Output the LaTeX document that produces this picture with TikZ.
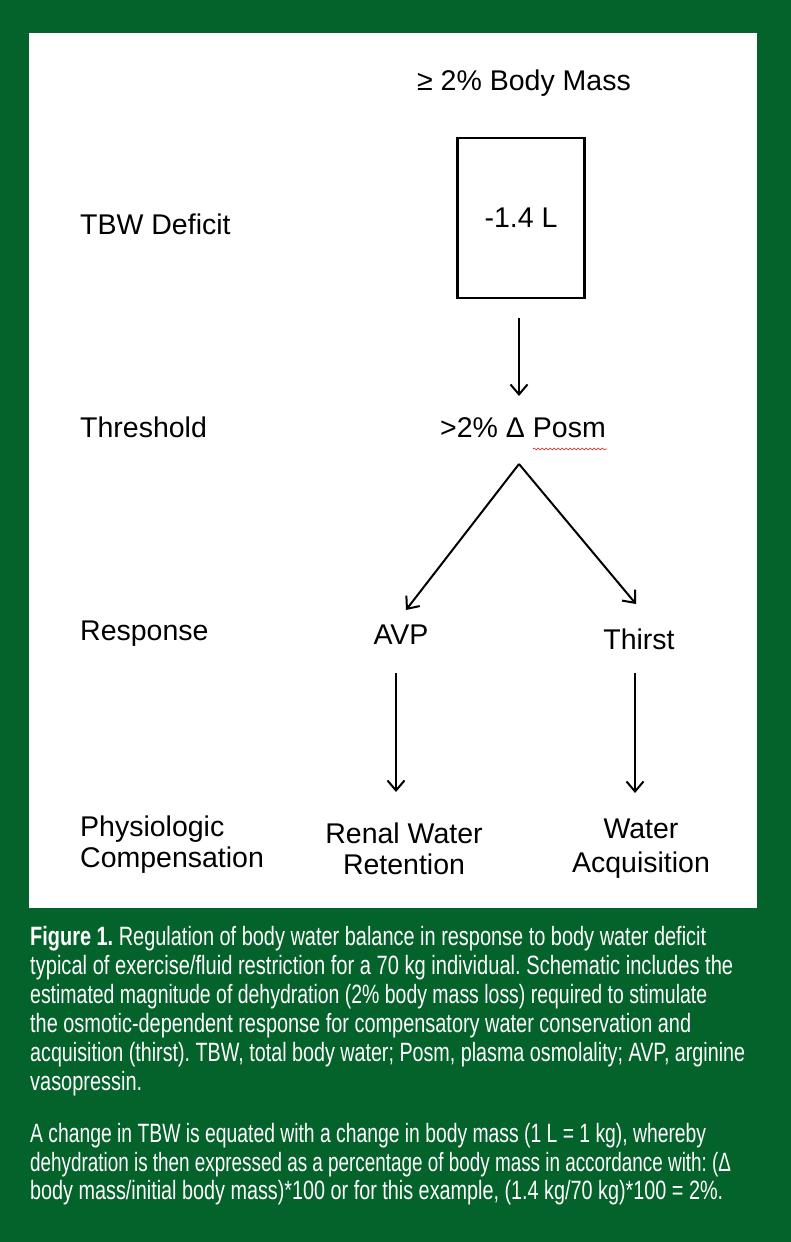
\documentclass[tikz,border=0pt]{standalone}
\usepackage{fontspec}
\usepackage{graphicx}
\setmainfont{Liberation Sans}
\newfontfamily\capfontA[FakeStretch=0.755]{Liberation Sans}
\usetikzlibrary{arrows.meta,decorations.pathmorphing}
\definecolor{bggreen}{HTML}{04622B}
\definecolor{squig}{HTML}{E03030}
\newcommand{\capfit}[2]{\resizebox{#1pt}{\height}{#2}}
\tikzset{
  lbl/.style={inner sep=0pt, font=\fontsize{28.5}{31}\selectfont, text=black},
  arr/.style={line width=2pt, -{Straight Barb[length=10pt,width=17pt,line width=2pt]}},
  capline/.style={anchor=base west, inner sep=0pt, text=white, font=\capfontA\fontsize{26.5}{29}\selectfont\frenchspacing},
}
\begin{document}
\begin{tikzpicture}[x=1pt,y=-1pt]
\useasboundingbox (0,0) rectangle (791,1242);
\fill[bggreen] (0,0) rectangle (791,1242);
\fill[white] (29,33) rectangle (757,908);

% top label and box
\node[lbl, anchor=base] (bodymass) at (524,90) {≥ 2\% Body Mass};
\node[lbl, draw, line width=2.6pt, minimum width=127pt, minimum height=160pt] (box) at (521,218) {-1.4 L};

% left labels
\node[lbl, anchor=base west] (tbw) at (80,234) {TBW Deficit};
\node[lbl, anchor=base west] (threshold) at (80,437) {Threshold};
\node[lbl, anchor=base west] (response) at (80,640) {Response};
\node[lbl, anchor=base west, align=left] (phys) at (80,867) {Physiologic\\Compensation};

% center labels
\node[lbl, anchor=base] (thr) at (523,437) {>2\% Δ Posm};
\node[lbl, anchor=base] (avp) at (401,644) {AVP};
\node[lbl, anchor=base] (thirst) at (639,649) {Thirst};
\node[lbl, anchor=base, align=center] (renal) at (404,874) {Renal Water\\Retention};
\node[lbl, anchor=base, align=center, font=\fontsize{28.5}{34}\selectfont] (water) at (641,872) {Water\\Acquisition};

% spell-check squiggle under Posm
\draw[squig, line width=0.7pt, decorate, decoration={snake, amplitude=0.9pt, segment length=4pt}] (533,449) -- (607,449);

% connector end points
\coordinate (a1s) at (519,318);
\coordinate (a1e) at (519,396);
\coordinate (apex) at (519,464);
\coordinate (avpin) at (406,610);
\coordinate (thin) at (636,604);
\coordinate (avpout) at (396,673);
\coordinate (renin) at (396,792);
\coordinate (thout) at (635,673);
\coordinate (watin) at (635,793);

\draw[arr] (a1s) -- (a1e);
\draw[arr] (apex) -- (avpin);
\draw[arr] (apex) -- (thin);
\draw[arr] (avpout) -- (renin);
\draw[arr] (thout) -- (watin);

% caption
\node[capline] (c1) at (30,945) {\capfit{676}{\textbf{Figure 1.} Regulation of body water balance in response to body water deficit}};
\node[capline] (c2) at (30,974) {\capfit{703}{typical of exercise/fluid restriction for a 70 kg individual. Schematic includes the}};
\node[capline] (c3) at (30,1003) {\capfit{677}{estimated magnitude of dehydration (2\% body mass loss) required to stimulate}};
\node[capline] (c4) at (30,1032) {\capfit{661}{the osmotic-dependent response for compensatory water conservation and}};
\node[capline] (c5) at (30,1061) {\capfit{715}{acquisition (thirst). TBW, total body water; Posm, plasma osmolality; AVP, arginine}};
\node[capline] (c6) at (30,1090) {\capfit{112}{vasopressin.}};
\node[capline] (d1) at (30,1142) {\capfit{676}{A change in TBW is equated with a change in body mass (1 L = 1 kg), whereby}};
\node[capline] (d2) at (30,1171) {\capfit{701}{dehydration is then expressed as a percentage of body mass in accordance with: (Δ}};
\node[capline] (d3) at (30,1199) {\capfit{693}{body mass/initial body mass)*100 or for this example, (1.4 kg/70 kg)*100 = 2\%.}};
\end{tikzpicture}
\end{document}
